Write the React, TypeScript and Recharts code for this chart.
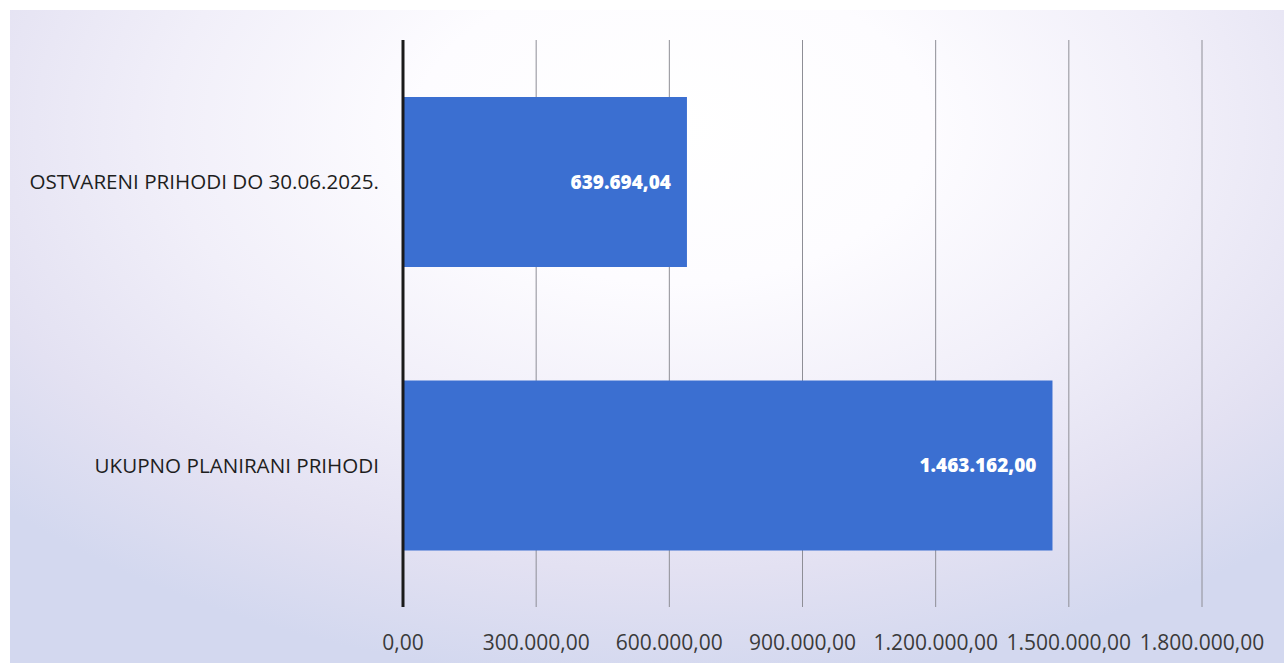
import { BarChart, Bar, XAxis, YAxis, CartesianGrid, LabelList } from 'recharts'

// Categories and values
const categories = ['OSTVARENI PRIHODI DO 30.06.2025.', 'UKUPNO PLANIRANI PRIHODI']
const amounts = [639694.04, 1463162.0]
const xTicks = [0, 300000, 600000, 900000, 1200000, 1500000, 1800000]

const data = categories.map((name, i) => ({ name, value: amounts[i] }))

// Croatian number format: 1.463.162,00
function formatHr(v: number) {
  const [int, dec] = v.toFixed(2).split('.')
  return int.replace(/\B(?=(\d{3})+(?!\d))/g, '.') + ',' + dec
}

const font = '"Open Sans", "Noto Sans", sans-serif'

export default function App() {
  return (
    <div style={{ position: 'absolute', left: 0, top: 0, width: 1284, height: 663, background: '#ffffff' }}>
      <div
        style={{
          position: 'absolute',
          left: 10,
          top: 10,
          width: 1274,
          height: 653,
          background:
            'radial-gradient(ellipse 72% 85% at 52% 18%, #ffffff 0%, #fdfcff 28%, #f1eff9 55%, #e3e1f2 80%, #d3d8ef 100%)',
        }}
      />
      <div style={{ position: 'absolute', left: 0, top: 0 }}>
        <BarChart
          width={1284}
          height={663}
          data={data}
          layout="vertical"
          margin={{ top: 40, right: 82, bottom: 0, left: 0 }}
        >
          <CartesianGrid horizontal={false} stroke="#8e8e96" strokeWidth={1} />
          <XAxis
            type="number"
            domain={[0, 1800000]}
            ticks={xTicks}
            tickFormatter={formatHr}
            axisLine={false}
            tickLine={false}
            height={56}
            interval={0}
            tickMargin={22}
            tick={{ fill: '#3a3a3a', fontSize: 21, fontFamily: font }}
          />
          <YAxis
            type="category"
            dataKey="name"
            width={403}
            axisLine={{ stroke: '#1a1a1a', strokeWidth: 3 }}
            tickLine={false}
            tickMargin={18}
            tick={{ fill: '#1e1e1e', fontSize: 20.6, fontFamily: font }}
          />
          <Bar dataKey="value" fill="#3b6fd1" barSize={170} isAnimationActive={false}>
            <LabelList
              dataKey="value"
              position="insideRight"
              offset={16}
              formatter={(v: number) => formatHr(v)}
              style={{ fill: '#ffffff', fontSize: 19, fontWeight: 800, fontFamily: font }}
            />
          </Bar>
        </BarChart>
      </div>
    </div>
  )
}
